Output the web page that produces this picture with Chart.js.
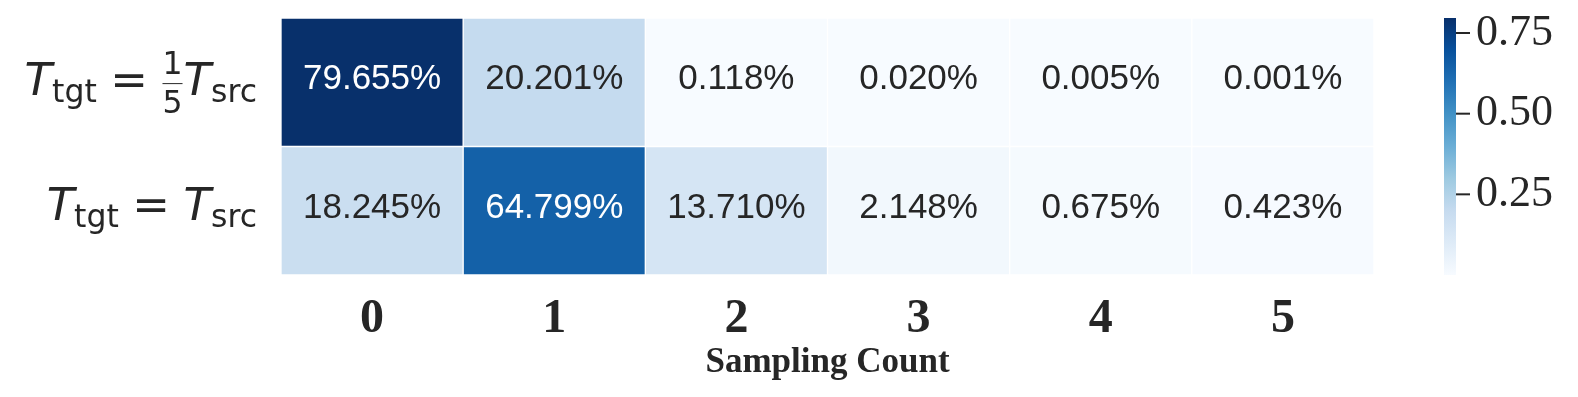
<!DOCTYPE html>
<html>
<head>
<meta charset="utf-8">
<script src="https://cdn.jsdelivr.net/npm/chart.js@4/dist/chart.umd.min.js"></script>
<style>
  html, body { margin: 0; padding: 0; background: #fff; }
  #wrap { width: 1578px; height: 397px; }
</style>
</head>
<body>
<div id="wrap"><canvas id="heat" width="1578" height="397"></canvas></div>
<script>
// ------------------------
// Data
// ------------------------
const samplingCounts = ['0', '1', '2', '3', '4', '5'];
// share of samples (%) for each sampling count
const fifthTempPct = [79.655, 20.201, 0.118, 0.020, 0.005, 0.001];
const sameTempPct = [18.245, 64.799, 13.710, 2.148, 0.675, 0.423];
// row labels as little math tokens: [base, subscript], ['='], ['frac', num, den]
const rowLabels = [
  [['T', 'tgt'], ['='], ['frac', '1', '5'], ['T', 'src']],
  [['T', 'tgt'], ['='], ['T', 'src']]
];
const colorbarTicks = [0.25, 0.50, 0.75];

const rows = [fifthTempPct, sameTempPct];
const allVals = rows.flat().map(v => v / 100);
const vmin = Math.min(...allVals);
const vmax = Math.max(...allVals);

// ------------------------
// Blues colormap
// ------------------------
const bluesStops = ['#f7fbff', '#deebf7', '#c6dbef', '#9ecae1', '#6baed6',
                    '#4292c6', '#2171b5', '#08519c', '#08306b'];

function hexToRgb(h) {
  return [parseInt(h.slice(1, 3), 16), parseInt(h.slice(3, 5), 16), parseInt(h.slice(5, 7), 16)];
}

function blues(t) {
  t = Math.max(0, Math.min(1, t));
  const pos = t * (bluesStops.length - 1);
  const i = Math.min(Math.floor(pos), bluesStops.length - 2);
  const f = pos - i;
  const a = hexToRgb(bluesStops[i]), b = hexToRgb(bluesStops[i + 1]);
  return a.map((c, k) => Math.round(c + (b[k] - c) * f));
}

function norm(v) { return (v - vmin) / (vmax - vmin); }

function rgbStr(c) { return `rgb(${c[0]},${c[1]},${c[2]})`; }

function textColorFor(c) {
  const lin = c.map(x => {
    x /= 255;
    return x <= 0.03928 ? x / 12.92 : Math.pow((x + 0.055) / 1.055, 2.4);
  });
  const lum = 0.2126 * lin[0] + 0.7152 * lin[1] + 0.0722 * lin[2];
  return lum > 0.408 ? '#262626' : '#ffffff';
}

// ------------------------
// Datasets: one floating bar row per label
// ------------------------
const datasets = rows.map((vals, r) => ({
  data: vals.map(() => [r, r + 1]),
  pct: vals,
  backgroundColor: vals.map(v => rgbStr(blues(norm(v / 100)))),
  borderColor: '#ffffff',
  borderWidth: 1,
  borderSkipped: false,
  barPercentage: 1,
  categoryPercentage: 1,
  grouped: false
}));

// ------------------------
// Plugins
// ------------------------
const cellText = {
  id: 'cellText',
  afterDatasetsDraw(chart) {
    const ctx = chart.ctx;
    ctx.save();
    ctx.font = '35px "Liberation Sans", Arial, sans-serif';
    ctx.textAlign = 'center';
    ctx.textBaseline = 'middle';
    chart.data.datasets.forEach((ds, i) => {
      chart.getDatasetMeta(i).data.forEach((el, j) => {
        const v = ds.pct[j];
        const p = el.getCenterPoint();
        ctx.fillStyle = textColorFor(blues(norm(v / 100)));
        ctx.fillText(v.toFixed(3) + '%', p.x, p.y - 2.5);
      });
    });
    ctx.restore();
  }
};

const FS = 45, SUB = 31.5;
const fontMain = `italic ${FS}px "DejaVu Sans"`;
const fontUp = `${FS}px "DejaVu Sans"`;
const fontSub = `${SUB}px "DejaVu Sans"`;

function drawMathLabel(ctx, tokens, rightX, centerY) {
  const thick = 0.3 * FS;
  // measure
  const parts = tokens.map(tok => {
    if (tok[0] === '=') {
      ctx.font = fontUp;
      return { kind: 'eq', w: ctx.measureText('=').width + 2 * thick };
    }
    if (tok[0] === 'frac') {
      ctx.font = fontSub;
      const w = Math.max(ctx.measureText(tok[1]).width, ctx.measureText(tok[2]).width) + 2;
      return { kind: 'frac', w, num: tok[1], den: tok[2] };
    }
    ctx.font = fontMain;
    const bw = ctx.measureText(tok[0]).width;
    ctx.font = fontSub;
    const sw = ctx.measureText(tok[1]).width;
    return { kind: 'sub', w: bw + sw, bw, base: tok[0], sub: tok[1] };
  });
  const total = parts.reduce((s, p) => s + p.w, 0);

  // vertical extent relative to baseline
  let top = -0.729 * FS, bottom = 0.15 * FS + 0.236 * SUB;
  parts.forEach(p => {
    if (p.kind === 'frac') {
      top = Math.min(top, -0.47 * FS - 0.729 * SUB);
      bottom = Math.max(bottom, 0.40 * FS);
    }
  });
  const base = centerY - (top + bottom) / 2;

  let x = rightX - total;
  ctx.fillStyle = '#262626';
  ctx.textAlign = 'left';
  ctx.textBaseline = 'alphabetic';
  parts.forEach(p => {
    if (p.kind === 'eq') {
      ctx.font = fontUp;
      ctx.fillText('=', x + thick, base);
    } else if (p.kind === 'frac') {
      ctx.font = fontSub;
      ctx.textAlign = 'center';
      const cx = x + p.w / 2;
      ctx.fillText(p.num, cx, base - 0.47 * FS);
      ctx.fillText(p.den, cx, base + 0.40 * FS);
      ctx.fillRect(x + 1, base - 0.26 * FS - 0.5, p.w - 2, 1);
      ctx.textAlign = 'left';
    } else {
      ctx.font = fontMain;
      ctx.fillText(p.base, x, base);
      ctx.font = fontSub;
      ctx.fillText(p.sub, x + p.bw, base + 0.15 * FS);
    }
    x += p.w;
  });
}

const rowLabelPlugin = {
  id: 'rowLabels',
  afterDraw(chart) {
    const ctx = chart.ctx;
    const y = chart.scales.y;
    ctx.save();
    rowLabels.forEach((tokens, r) => {
      drawMathLabel(ctx, tokens, 257, y.getPixelForValue(r + 0.5));
    });
    ctx.restore();
  }
};

const colorbar = {
  id: 'colorbar',
  afterDraw(chart) {
    const ctx = chart.ctx;
    const cb = chart.scales.cb;
    const x0 = 1444, x1 = 1456;
    const yTop = cb.getPixelForValue(vmax), yBot = cb.getPixelForValue(vmin);
    ctx.save();
    const grad = ctx.createLinearGradient(0, yBot, 0, yTop);
    bluesStops.forEach((c, i) => grad.addColorStop(i / (bluesStops.length - 1), c));
    ctx.fillStyle = grad;
    ctx.fillRect(x0, yTop, x1 - x0, yBot - yTop);

    ctx.strokeStyle = '#262626';
    ctx.lineWidth = 2;
    ctx.fillStyle = '#262626';
    ctx.font = '44px "Liberation Serif", "Times New Roman", serif';
    ctx.textAlign = 'left';
    ctx.textBaseline = 'middle';
    colorbarTicks.forEach(t => {
      const py = cb.getPixelForValue(t);
      ctx.beginPath();
      ctx.moveTo(x1, py);
      ctx.lineTo(x1 + 14, py);
      ctx.stroke();
      ctx.fillText(t.toFixed(2), x1 + 20, py);
    });
    ctx.restore();
  }
};

// ------------------------
// Chart
// ------------------------
new Chart(document.getElementById('heat'), {
  type: 'bar',
  data: { labels: samplingCounts, datasets },
  options: {
    responsive: false,
    animation: false,
    devicePixelRatio: 1,
    layout: { padding: { left: 0, top: 18, right: 0, bottom: 0 } },
    plugins: {
      legend: { display: false },
      tooltip: { enabled: false }
    },
    scales: {
      x: {
        type: 'category',
        offset: true,
        grid: { display: false },
        border: { display: false },
        ticks: {
          color: '#262626',
          padding: 8,
          font: { family: '"Liberation Serif", "Times New Roman", serif', size: 48, weight: 'bold' }
        },
        title: {
          display: true,
          text: 'Sampling Count',
          color: '#262626',
          padding: { top: 0, bottom: 13 },
          font: { family: '"Liberation Serif", "Times New Roman", serif', size: 35, weight: 'bold' }
        },
        afterFit(s) { s.height = 122; }
      },
      y: {
        type: 'linear',
        min: 0,
        max: 2,
        reverse: true,
        grid: { display: false },
        border: { display: false },
        ticks: { display: false },
        afterFit(s) { s.width = 281; }
      },
      cb: {
        type: 'linear',
        position: 'right',
        min: vmin,
        max: vmax,
        grid: { display: false },
        border: { display: false },
        ticks: { display: false },
        afterFit(s) { s.width = 204; }
      }
    }
  },
  plugins: [cellText, rowLabelPlugin, colorbar]
});
</script>
</body>
</html>
